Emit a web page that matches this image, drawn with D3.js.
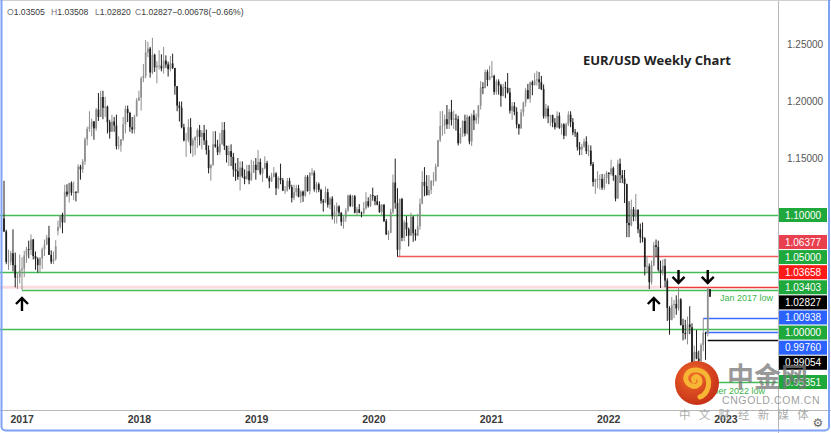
<!DOCTYPE html>
<html><head><meta charset="utf-8">
<script src="https://cdn.jsdelivr.net/npm/d3@7"></script>
<style>html,body{margin:0;padding:0;background:#fff;}svg{display:block;}</style>
</head><body>
<svg id="chart" width="831" height="433"></svg>
<script>
// ---------- DATA (weekly EUR/USD, [open, high, low, close]) ----------
const firstWeek = "2016-11-07";
const c2016 = [
[1.0970,1.1300,1.0850,1.0855],[1.0855,1.0870,1.0568,1.0588],[1.0588,1.0695,1.0518,1.0590],[1.0590,1.0684,1.0560,1.0665],
[1.0665,1.0874,1.0505,1.0560],[1.0560,1.0670,1.0365,1.0450],[1.0450,1.0490,1.0352,1.0456],[1.0456,1.0653,1.0400,1.0517]];
const c2017 = [
[1.0517,1.0630,1.0340,1.0530],[1.0530,1.0685,1.0455,1.0645],[1.0645,1.0720,1.0580,1.0700],[1.0700,1.0775,1.0620,1.0695],
[1.0695,1.0830,1.0650,1.0785],[1.0785,1.0790,1.0610,1.0640],[1.0640,1.0680,1.0520,1.0615],[1.0615,1.0630,1.0495,1.0560],
[1.0560,1.0630,1.0495,1.0620],[1.0620,1.0715,1.0525,1.0700],[1.0700,1.0785,1.0640,1.0740],[1.0740,1.0825,1.0735,1.0800],
[1.0800,1.0905,1.0650,1.0650],[1.0650,1.0690,1.0570,1.0590],[1.0590,1.0680,1.0570,1.0615],[1.0615,1.0780,1.0600,1.0725],
[1.0860,1.0950,1.0820,1.0895],[1.0895,1.1000,1.0880,1.0995],[1.1000,1.1020,1.0840,1.0935],[1.0935,1.1265,1.0930,1.1205],
[1.1205,1.1270,1.1160,1.1180],[1.1180,1.1285,1.1110,1.1280],[1.1280,1.1295,1.1170,1.1195],[1.1195,1.1295,1.1130,1.1200],
[1.1200,1.1210,1.1120,1.1195],[1.1195,1.1445,1.1190,1.1425],[1.1425,1.1440,1.1310,1.1400],[1.1400,1.1490,1.1370,1.1470],
[1.1470,1.1680,1.1440,1.1665],[1.1665,1.1775,1.1610,1.1755],[1.1755,1.1910,1.1730,1.1775],[1.1775,1.1845,1.1690,1.1820],
[1.1820,1.1825,1.1660,1.1760],[1.1760,1.1940,1.1740,1.1925],[1.1925,1.2070,1.1825,1.1860],[1.1860,1.2090,1.1860,1.2035],
[1.2035,1.2090,1.1840,1.1940],[1.1940,1.2035,1.1860,1.1950],[1.1950,1.1960,1.1715,1.1815],[1.1815,1.1835,1.1670,1.1730],
[1.1730,1.1880,1.1730,1.1820],[1.1820,1.1860,1.1730,1.1785],[1.1785,1.1880,1.1575,1.1605],[1.1605,1.1690,1.1575,1.1610],
[1.1610,1.1665,1.1555,1.1665],[1.1665,1.1860,1.1650,1.1795],[1.1795,1.1960,1.1715,1.1930],[1.1930,1.1960,1.1815,1.1895],
[1.1895,1.1905,1.1730,1.1770],[1.1770,1.1860,1.1715,1.1750],[1.1750,1.1880,1.1715,1.1865],[1.1865,1.2025,1.1865,1.2005]];
const c2018 = [
[1.2005,1.2090,1.2000,1.2030],[1.2030,1.2215,1.1915,1.2200],[1.2200,1.2325,1.2165,1.2220],[1.2220,1.2535,1.2200,1.2425],
[1.2425,1.2520,1.2385,1.2460],[1.2460,1.2475,1.2205,1.2250],[1.2250,1.2555,1.2235,1.2405],[1.2405,1.2415,1.2255,1.2295],
[1.2295,1.2350,1.2155,1.2310],[1.2310,1.2445,1.2275,1.2310],[1.2310,1.2410,1.2260,1.2285],[1.2285,1.2475,1.2240,1.2355],
[1.2355,1.2400,1.2290,1.2320],[1.2320,1.2345,1.2215,1.2280],[1.2280,1.2395,1.2260,1.2330],[1.2330,1.2415,1.2280,1.2290],
[1.2290,1.2290,1.2055,1.2130],[1.2130,1.2130,1.1910,1.1960],[1.1960,1.1995,1.1820,1.1940],[1.1940,1.1995,1.1760,1.1770],
[1.1770,1.1800,1.1645,1.1655],[1.1655,1.1720,1.1510,1.1660],[1.1660,1.1840,1.1640,1.1770],[1.1770,1.1850,1.1540,1.1610],
[1.1610,1.1675,1.1510,1.1655],[1.1655,1.1690,1.1525,1.1685],[1.1685,1.1760,1.1590,1.1745],[1.1745,1.1790,1.1610,1.1685],
[1.1685,1.1745,1.1575,1.1720],[1.1720,1.1790,1.1615,1.1655],[1.1655,1.1750,1.1530,1.1570],[1.1570,1.1610,1.1365,1.1410],
[1.1410,1.1445,1.1300,1.1440],[1.1440,1.1735,1.1430,1.1620],[1.1620,1.1735,1.1590,1.1600],[1.1600,1.1660,1.1525,1.1550],
[1.1550,1.1720,1.1530,1.1625],[1.1625,1.1815,1.1615,1.1745],[1.1745,1.1815,1.1570,1.1605],[1.1605,1.1610,1.1460,1.1525],
[1.1525,1.1610,1.1430,1.1560],[1.1560,1.1620,1.1430,1.1510],[1.1510,1.1545,1.1335,1.1400],[1.1400,1.1455,1.1300,1.1385],
[1.1385,1.1500,1.1310,1.1335],[1.1335,1.1470,1.1215,1.1415],[1.1415,1.1470,1.1325,1.1340],[1.1340,1.1400,1.1270,1.1315],
[1.1315,1.1440,1.1310,1.1385],[1.1385,1.1440,1.1270,1.1305],[1.1305,1.1485,1.1300,1.1370],[1.1370,1.1475,1.1370,1.1440],
[1.1440,1.1500,1.1310,1.1395]];
const c2019 = [
[1.1395,1.1570,1.1390,1.1465],[1.1465,1.1495,1.1350,1.1365],[1.1365,1.1415,1.1290,1.1410],[1.1410,1.1515,1.1400,1.1455],
[1.1455,1.1475,1.1320,1.1325],[1.1325,1.1345,1.1235,1.1295],[1.1295,1.1370,1.1290,1.1335],[1.1335,1.1420,1.1330,1.1365],
[1.1365,1.1375,1.1175,1.1235],[1.1235,1.1340,1.1225,1.1325],[1.1325,1.1450,1.1270,1.1305],[1.1305,1.1325,1.1210,1.1215],
[1.1215,1.1255,1.1185,1.1215],[1.1215,1.1325,1.1205,1.1300],[1.1300,1.1325,1.1225,1.1245],[1.1245,1.1265,1.1110,1.1150],
[1.1150,1.1265,1.1130,1.1200],[1.1200,1.1265,1.1165,1.1235],[1.1235,1.1265,1.1155,1.1160],[1.1160,1.1215,1.1105,1.1205],
[1.1205,1.1215,1.1115,1.1170],[1.1170,1.1350,1.1160,1.1335],[1.1335,1.1350,1.1205,1.1210],[1.1210,1.1375,1.1180,1.1370],
[1.1370,1.1410,1.1345,1.1370],[1.1370,1.1390,1.1205,1.1225],[1.1225,1.1290,1.1195,1.1270],[1.1270,1.1285,1.1200,1.1220],
[1.1220,1.1230,1.1100,1.1125],[1.1125,1.1140,1.1030,1.1110],[1.1110,1.1250,1.1105,1.1200],[1.1200,1.1230,1.1065,1.1090],
[1.1090,1.1160,1.1050,1.1145],[1.1145,1.1165,1.0960,1.0990],[1.0990,1.1085,1.0925,1.1030],[1.1030,1.1110,1.0925,1.1075],
[1.1075,1.1085,1.0990,1.1020],[1.1020,1.1025,1.0905,1.0940],[1.0940,1.0990,1.0880,1.0975],[1.0975,1.1060,1.0940,1.1040],
[1.1040,1.1180,1.1025,1.1170],[1.1170,1.1180,1.1070,1.1080],[1.1080,1.1175,1.1070,1.1165],[1.1165,1.1175,1.1015,1.1020],
[1.1020,1.1070,1.0990,1.1050],[1.1050,1.1095,1.1015,1.1020],[1.1020,1.1030,1.0980,1.1015],[1.1015,1.1115,1.1005,1.1060],
[1.1060,1.1200,1.1045,1.1120],[1.1120,1.1155,1.1065,1.1080],[1.1080,1.1185,1.1070,1.1175],[1.1175,1.1240,1.1125,1.1165]];
const c2020 = [
[1.1165,1.1170,1.1085,1.1120],[1.1120,1.1175,1.1085,1.1090],[1.1090,1.1120,1.1020,1.1025],[1.1025,1.1095,1.1000,1.1090],
[1.1090,1.1095,1.0940,1.0945],[1.0945,1.0965,1.0825,1.0830],[1.0830,1.0865,1.0780,1.0845],[1.0845,1.1055,1.0840,1.1025],
[1.1025,1.1355,1.1010,1.1285],[1.1285,1.1495,1.1055,1.1105],[1.1105,1.1235,1.0635,1.0695],[1.0695,1.1145,1.0640,1.1140],
[1.1140,1.1150,1.0770,1.0800],[1.0800,1.0955,1.0770,1.0935],[1.0935,1.0990,1.0815,1.0875],[1.0875,1.0890,1.0725,1.0820],
[1.0820,1.1020,1.0815,1.0985],[1.0985,1.0990,1.0765,1.0840],[1.0840,1.0875,1.0775,1.0820],[1.0820,1.1010,1.0815,1.0900],
[1.0900,1.1145,1.0870,1.1100],[1.1100,1.1385,1.1095,1.1290],[1.1290,1.1420,1.1165,1.1255],[1.1255,1.1350,1.1170,1.1175],
[1.1175,1.1350,1.1170,1.1220],[1.1220,1.1305,1.1185,1.1300],[1.1300,1.1375,1.1255,1.1300],[1.1300,1.1450,1.1295,1.1425],
[1.1425,1.1660,1.1420,1.1655],[1.1655,1.1910,1.1640,1.1780],[1.1780,1.1915,1.1695,1.1785],[1.1785,1.1880,1.1710,1.1840],
[1.1840,1.1965,1.1755,1.1795],[1.1795,1.1930,1.1755,1.1905],[1.1905,1.2010,1.1785,1.1835],[1.1835,1.1915,1.1755,1.1845],
[1.1845,1.1885,1.1740,1.1840],[1.1840,1.1870,1.1610,1.1630],[1.1630,1.1765,1.1625,1.1715],[1.1715,1.1830,1.1685,1.1825],
[1.1825,1.1880,1.1690,1.1715],[1.1715,1.1880,1.1705,1.1860],[1.1860,1.1870,1.1620,1.1645],[1.1645,1.1890,1.1605,1.1875],
[1.1875,1.1920,1.1745,1.1830],[1.1830,1.1890,1.1800,1.1855],[1.1855,1.1965,1.1800,1.1960],[1.1960,1.2175,1.1925,1.2120],
[1.2120,1.2165,1.2060,1.2115],[1.2115,1.2275,1.2110,1.2255],[1.2255,1.2275,1.2130,1.2185],[1.2185,1.2310,1.2180,1.2215]];
const c2021 = [
[1.2215,1.2350,1.2200,1.2220],[1.2220,1.2230,1.2055,1.2080],[1.2080,1.2190,1.2055,1.2170],[1.2170,1.2190,1.2055,1.2135],
[1.2135,1.2150,1.1950,1.2045],[1.2045,1.2150,1.2040,1.2120],[1.2120,1.2170,1.2025,1.2115],[1.2115,1.2245,1.2065,1.2075],
[1.2075,1.2115,1.1890,1.1915],[1.1915,1.1990,1.1835,1.1955],[1.1955,1.1990,1.1875,1.1905],[1.1905,1.1945,1.1760,1.1795],
[1.1795,1.1800,1.1705,1.1760],[1.1760,1.1930,1.1755,1.1900],[1.1900,1.1995,1.1865,1.1985],[1.1985,1.2115,1.1950,1.2095],
[1.2095,1.2150,1.2015,1.2020],[1.2020,1.2170,1.1985,1.2165],[1.2165,1.2180,1.2050,1.2140],[1.2140,1.2245,1.2135,1.2180],
[1.2180,1.2265,1.2135,1.2190],[1.2190,1.2255,1.2105,1.2165],[1.2165,1.2220,1.2095,1.2105],[1.2105,1.2145,1.1845,1.1865],
[1.1865,1.1975,1.1845,1.1935],[1.1935,1.1960,1.1805,1.1865],[1.1865,1.1880,1.1780,1.1875],[1.1875,1.1880,1.1770,1.1810],
[1.1810,1.1850,1.1750,1.1770],[1.1770,1.1910,1.1765,1.1870],[1.1870,1.1900,1.1755,1.1765],[1.1765,1.1805,1.1705,1.1795],
[1.1795,1.1805,1.1665,1.1695],[1.1695,1.1810,1.1690,1.1795],[1.1795,1.1910,1.1780,1.1880],[1.1880,1.1910,1.1770,1.1815],
[1.1815,1.1850,1.1700,1.1725],[1.1725,1.1755,1.1685,1.1720],[1.1720,1.1730,1.1565,1.1595],[1.1595,1.1640,1.1525,1.1575],
[1.1575,1.1625,1.1525,1.1600],[1.1600,1.1670,1.1590,1.1645],[1.1645,1.1690,1.1535,1.1560],[1.1560,1.1615,1.1515,1.1565],
[1.1565,1.1610,1.1430,1.1445],[1.1445,1.1465,1.1250,1.1290],[1.1290,1.1320,1.1185,1.1315],[1.1315,1.1385,1.1235,1.1315],
[1.1315,1.1355,1.1225,1.1315],[1.1315,1.1360,1.1220,1.1240],[1.1240,1.1360,1.1220,1.1325],[1.1325,1.1385,1.1275,1.1370]];
const c2022 = [
[1.1370,1.1375,1.1270,1.1360],[1.1360,1.1485,1.1345,1.1410],[1.1410,1.1425,1.1300,1.1345],[1.1345,1.1350,1.1120,1.1145],
[1.1145,1.1485,1.1140,1.1450],[1.1450,1.1495,1.1280,1.1350],[1.1350,1.1395,1.1280,1.1320],[1.1320,1.1395,1.1105,1.1270],
[1.1270,1.1275,1.0805,1.0930],[1.0930,1.1120,1.0805,1.0910],[1.0910,1.1135,1.0900,1.1050],[1.1050,1.1070,1.0945,1.0985],
[1.0985,1.1185,1.0945,1.1045],[1.1045,1.1050,1.0840,1.0875],[1.0875,1.0925,1.0755,1.0805],[1.0805,1.0935,1.0760,1.0795],
[1.0795,1.0805,1.0470,1.0545],[1.0545,1.0640,1.0490,1.0550],[1.0550,1.0575,1.0350,1.0410],[1.0410,1.0600,1.0390,1.0560],
[1.0560,1.0765,1.0550,1.0735],[1.0735,1.0785,1.0630,1.0720],[1.0720,1.0775,1.0505,1.0520],[1.0520,1.0600,1.0360,1.0495],
[1.0495,1.0610,1.0470,1.0555],[1.0555,1.0615,1.0365,1.0425],[1.0425,1.0445,1.0070,1.0185],[1.0185,1.0200,0.9950,1.0080],
[1.0080,1.0280,1.0075,1.0210],[1.0210,1.0255,1.0095,1.0220],[1.0220,1.0295,1.0125,1.0180],[1.0180,1.0368,1.0160,1.0260],
[1.0260,1.0270,1.0030,1.0035],[1.0035,1.0090,0.9900,0.9965],[0.9965,1.0080,0.9910,0.9955],[0.9955,1.0110,0.9865,1.0040],
[1.0040,1.0200,0.9955,1.0015],[1.0015,1.0050,0.9670,0.9690],[0.9690,0.9855,0.9535,0.9800],[0.9800,0.9990,0.9735,0.9740],
[0.9740,0.9810,0.9630,0.9720],[0.9720,0.9875,0.9705,0.9860],[0.9860,1.0094,0.9805,0.9965],[0.9965,0.9976,0.9730,0.9960],
[0.9960,1.0366,0.9935,1.0355],[1.03505,1.03508,1.02820,1.02827]];

// price levels (horizontal lines + right-axis price tags)
const levelValues = [1.10000, 1.06377, 1.05000, 1.03658, 1.03403, 1.02827, 1.00938, 1.00000, 0.99760, 0.99054, 0.95351];
const levelTags   = ["#1fa83c","#e8404f","#1fa83c","#ff1a1a","#1fa83c","#000000","#2962ff","#1fa83c","#2962ff","#000000","#1fa83c"];
const levelLines  = ["#45bb55","#f05858","#45bb55","#f03a3a","#45bb55",null,"#3d6bff","#45bb55","#3d6bff","#111111","#45bb55"];
const levelStarts = [null,"2020-03-16",null,"2022-07-04","2017-01-02",null,"2022-10-24",null,"2022-10-31","2022-11-07","2022-09-26"];
const axisTicks = [1.15, 1.20, 1.25];
const yearTicks = ["2017","2018","2019","2020","2021","2022","2023"];
const arrowDates = ["2017-01-02","2022-05-23","2022-08-08","2022-11-07"];
const arrowTips  = [1.0272, 1.0272, 1.0404, 1.0404];
const arrowDirs  = ["up","up","down","down"];
const headerParts = [["O","1.03505"],["H","1.03508"],["L","1.02820"],["C","1.02827"],["","−0.00678"],["","(−0.66%)"]];
const titleText = "EUR/USD Weekly Chart";

// ---------- DRAW ----------
const parse = d3.timeParse("%Y-%m-%d");
const svg = d3.select("#chart");
const plotR = 778, plotB = 410;
const startDate = parse(firstWeek);
const candles = [].concat(c2016,c2017,c2018,c2019,c2020,c2021,c2022)
  .map((d,i)=>({date:d3.timeDay.offset(startDate,7*i),o:d[0],h:d[1],l:d[2],c:d[3]}));
const x = d3.scaleTime().domain([startDate, candles[candles.length-1].date]).range([4,710]);
const y = d3.scaleLinear().domain([0.95,1.25]).range([386,44]);

svg.append("rect").attr("width",831).attr("height",433).attr("fill","#fff");
svg.append("defs").append("clipPath").attr("id","plot").append("rect")
  .attr("x",0).attr("y",0).attr("width",plotR).attr("height",plotB);
const plot = svg.append("g").attr("clip-path","url(#plot)");

// light band at 1.03658 from the left
plot.append("line").attr("x1",0).attr("x2",x(parse(levelStarts[3])))
  .attr("y1",y(levelValues[3])).attr("y2",y(levelValues[3]))
  .attr("stroke","rgba(240,90,110,0.22)").attr("stroke-width",3);

levelValues.forEach((v,i)=>{
  if(!levelLines[i]) return;
  const x1 = levelStarts[i] ? x(parse(levelStarts[i])) : 0;
  plot.append("line").attr("x1",x1).attr("x2",plotR)
    .attr("y1",Math.round(y(v))+0.5).attr("y2",Math.round(y(v))+0.5)
    .attr("stroke",levelLines[i]).attr("stroke-width",levelLines[i]==="#45bb55"?1.6:1.3);
});

// candles
const cg = plot.append("g");
const upC = "#8e8e8e", dnC = "#1e1e1e";
cg.selectAll("line.w").data(candles).join("line")
  .attr("x1",d=>x(d.date)).attr("x2",d=>x(d.date))
  .attr("y1",d=>y(d.h)).attr("y2",d=>y(d.l))
  .attr("stroke",d=>d.c>=d.o?upC:dnC).attr("stroke-width",1);
cg.selectAll("rect.b").data(candles).join("rect")
  .attr("x",d=>x(d.date)-0.85).attr("width",1.7)
  .attr("y",d=>y(Math.max(d.o,d.c)))
  .attr("height",d=>Math.max(0.8,Math.abs(y(d.o)-y(d.c))))
  .attr("fill",d=>d.c>=d.o?upC:dnC);

// annotations
plot.append("text").attr("x",773).attr("y",y(levelValues[4])+11)
  .attr("text-anchor","end").attr("font-family","Liberation Sans, Arial, sans-serif")
  .attr("font-size",9).attr("fill","#3cb44b").text("Jan 2017 low");
plot.append("text").attr("x",765).attr("y",y(levelValues[10])+12)
  .attr("text-anchor","end").attr("font-family","Liberation Sans, Arial, sans-serif")
  .attr("font-size",9).attr("fill","#3cb44b").text("September 2022 low");

// arrows
arrowDates.forEach((d,i)=>{
  const ax = x(parse(d)), ty = y(arrowTips[i]);
  const s = arrowDirs[i]==="up" ? 1 : -1;
  plot.append("path")
    .attr("d",`M${ax},${ty+s*13}L${ax},${ty+s*1}M${ax-6},${ty+s*6}L${ax},${ty}L${ax+6},${ty+s*6}`)
    .attr("fill","none").attr("stroke","#000").attr("stroke-width",2.4)
    .attr("stroke-linejoin","miter");
});

// title
svg.append("text").attr("x",583).attr("y",65)
  .attr("font-family","Open Sans, sans-serif").attr("font-weight",700)
  .attr("font-size",13).attr("fill","#222").text(titleText);

// header OHLC
const hx = [7,51,95,135,181,217];
const ht = svg.append("text").attr("y",15).attr("font-family","Liberation Sans, Arial, sans-serif").attr("font-size",8.6);
headerParts.forEach((p,i)=>{
  ht.append("tspan").attr("x",hx[i]).attr("fill","#777").text(p[0]);
  ht.append("tspan").attr("fill","#3a3a3a").text(p[1]);
});

// frame lines
svg.append("line").attr("x1",plotR+0.5).attr("x2",plotR+0.5).attr("y1",0).attr("y2",433).attr("stroke","#b8b8b8");
svg.append("line").attr("x1",0).attr("x2",831).attr("y1",plotB+0.5).attr("y2",plotB+0.5).attr("stroke","#b8b8b8");
svg.append("line").attr("x1",0).attr("x2",831).attr("y1",0.5).attr("y2",0.5).attr("stroke","#d0d0d0");

// right axis
const yAxis = d3.axisRight(y).tickValues(axisTicks).tickFormat(d3.format(".5f")).tickSize(0).tickPadding(0);
const ya = svg.append("g").attr("transform",`translate(${plotR+9},0)`).call(yAxis);
ya.select(".domain").remove();
ya.selectAll("text").attr("font-family","Liberation Sans, Arial, sans-serif").attr("font-size",10).attr("fill","#555");

// bottom axis
const xAxis = d3.axisBottom(x).tickValues(yearTicks.map(t=>parse(t+"-01-01"))).tickFormat(d3.timeFormat("%Y")).tickSize(0).tickPadding(0);
const xa = svg.append("g").attr("transform",`translate(0,${plotB+6})`).call(xAxis);
xa.select(".domain").remove();
xa.selectAll("text").attr("font-family","Liberation Sans, Arial, sans-serif").attr("font-size",10.5)
  .attr("font-weight",700).attr("fill","#3a3a3a");

// price tags with collision avoidance (groups centred on their mean)
const tagH = 14, gap = 15.1;
let groups = levelValues.map((v,i)=>({items:[i], c:y(v)}));
groups.sort((a,b)=>a.c-b.c);
let merged = true;
while(merged){
  merged = false;
  for(let k=0;k<groups.length-1;k++){
    const a=groups[k], b=groups[k+1];
    const aBot = a.c + (a.items.length-1)/2*gap, bTop = b.c - (b.items.length-1)/2*gap;
    if(bTop - aBot < gap){
      const items = a.items.concat(b.items);
      groups.splice(k,2,{items, c:d3.mean(items,i=>y(levelValues[i]))});
      merged = true; break;
    }
  }
}
const tags = svg.append("g");
groups.forEach(g=>{
  const ordered = g.items.slice().sort((p,q)=>y(levelValues[p])-y(levelValues[q]));
  ordered.forEach((i,k)=>{
    const cy = g.c + (k-(ordered.length-1)/2)*gap;
    tags.append("rect").attr("x",plotR+1).attr("y",cy-tagH/2).attr("width",48).attr("height",tagH)
      .attr("fill",levelTags[i]);
    tags.append("text").attr("x",plotR+25).attr("y",cy+3.6).attr("text-anchor","middle")
      .attr("font-family","Liberation Sans, Arial, sans-serif").attr("font-size",10)
      .attr("fill","#fff").text(d3.format(".5f")(levelValues[i]));
  });
});

// gear icon
svg.append("text").attr("x",818).attr("y",427).attr("text-anchor","middle")
  .attr("font-family","DejaVu Sans").attr("font-size",12).attr("fill","#666").text("⚙");

// watermark
const wm = svg.append("g");
const grad = svg.select("defs").append("radialGradient").attr("id","lg").attr("cx","40%").attr("cy","35%").attr("r","70%");
grad.append("stop").attr("offset","0%").attr("stop-color","#f06a2a");
grad.append("stop").attr("offset","100%").attr("stop-color","#c42d16");
wm.append("circle").attr("cx",697).attr("cy",383).attr("r",22).attr("fill","url(#lg)");
wm.append("path")
  .attr("d","M700,397 C712,392 712,372 697,370 C686,369 682,380 690,385 C696,389 703,383 699,378 C696,375 692,378 694,381")
  .attr("fill","none").attr("stroke","#f6b533").attr("stroke-width",5).attr("stroke-linecap","round");
wm.append("text").attr("x",727).attr("y",387).attr("font-family","Noto Sans CJK SC").attr("font-weight",700)
  .attr("font-size",27).attr("fill","rgba(120,120,120,0.75)").text("中金网");
wm.append("text").attr("x",722).attr("y",404).attr("font-family","Liberation Sans, Arial, sans-serif")
  .attr("font-size",10.5).attr("letter-spacing",0.6).attr("fill","rgba(140,140,140,0.85)").text("CNGOLD.COM.CN");
wm.append("text").attr("x",679).attr("y",419).attr("font-family","Noto Sans CJK SC")
  .attr("font-size",11.5).attr("letter-spacing",8.2).attr("fill","rgba(150,150,150,0.8)").text("中文财经新媒体");

// outer blue border
svg.append("rect").attr("x",1.5).attr("y",-3).attr("width",827.5).attr("height",433.5)
  .attr("rx",4).attr("fill","none").attr("stroke","#7ea2f5").attr("stroke-width",2);
</script>
</body></html>
